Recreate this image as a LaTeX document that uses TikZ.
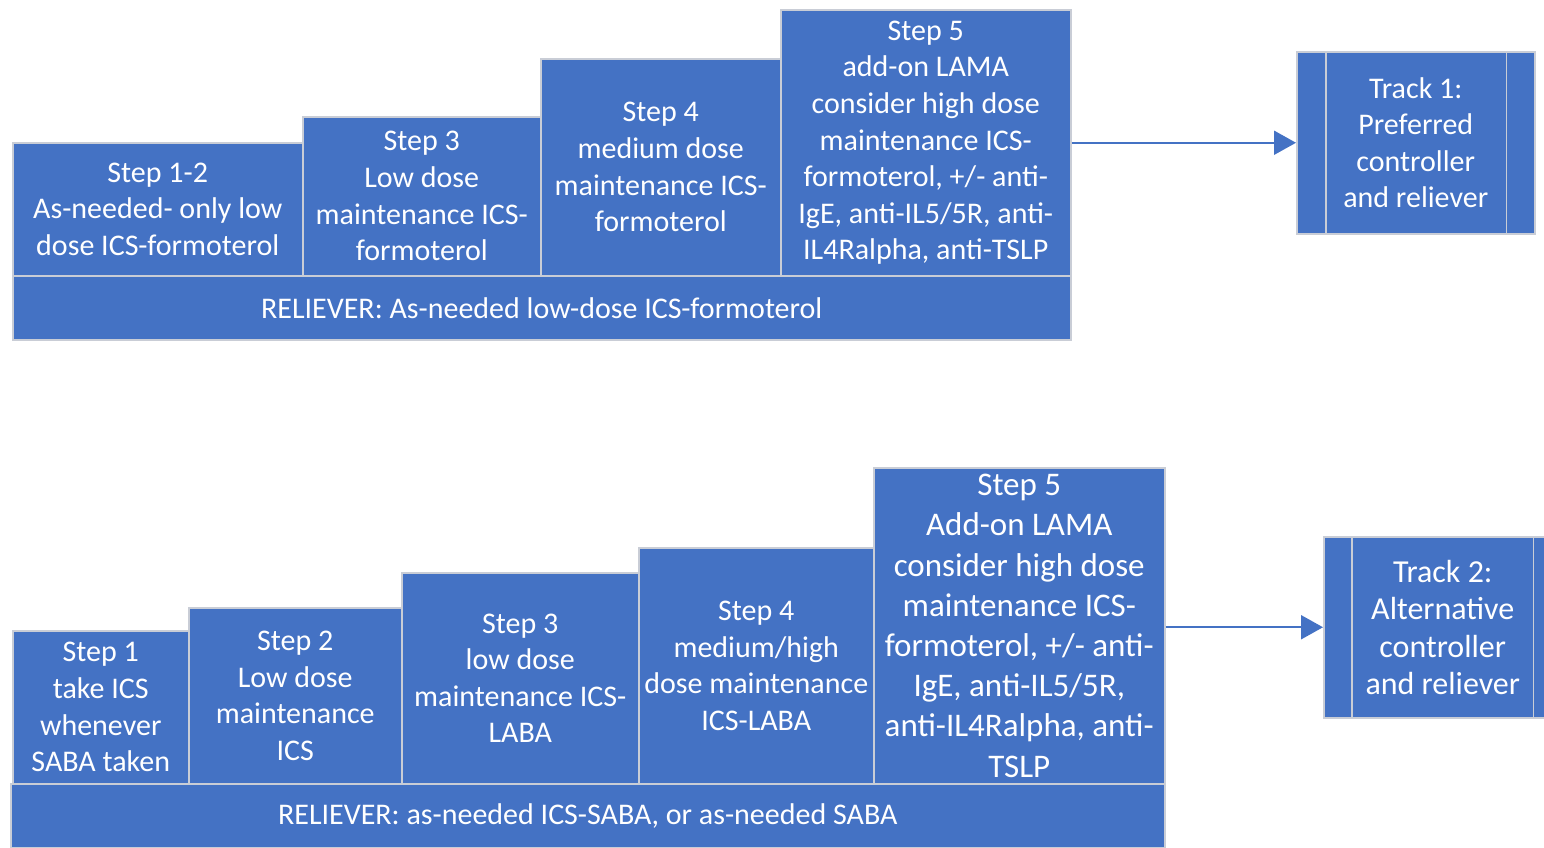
\documentclass[tikz,border=0pt]{standalone}
\usepackage{fontspec}
\setmainfont{Carlito}
\usetikzlibrary{arrows.meta}
\definecolor{fillblue}{HTML}{4472C4}
\definecolor{edgegray}{HTML}{C9CDD6}
\tikzset{
  box/.style={draw=edgegray, line width=1.5pt, fill=fillblue, text=white, align=center,
    inner sep=0pt, anchor=north west, font=\fontsize{30}{36.6}\selectfont},
  bigtext/.style={font=\fontsize{33}{40.2}\selectfont},
  midtext/.style={font=\fontsize{32}{37.5}\selectfont},
  arr/.style={draw=fillblue, line width=2pt, -{Triangle[length=22pt,width=24pt]}},
  divider/.style={draw=edgegray, line width=1.5pt},
}
\begin{document}
\begin{tikzpicture}[x=1pt,y=-1pt]
\useasboundingbox (0,0) rectangle (1544,847);
\clip (0,0) rectangle (1544,847);
% ---------- Track 1 ----------
\node[box, minimum width=290pt, minimum height=133pt] (a1) at (12,142)
  {Step 1-2\\As-needed- only low\\dose ICS-formoterol};
\node[box, minimum width=238pt, minimum height=159pt] (a2) at (302,116)
  {Step 3\\Low dose\\maintenance ICS-\\formoterol};
\node[box, minimum width=240pt, minimum height=217pt] (a3) at (540,58)
  {Step 4\\medium dose\\maintenance ICS-\\formoterol};
\node[box, minimum width=290pt, minimum height=266pt] (a4) at (780,9)
  {Step 5\\add-on LAMA\\consider high dose\\maintenance ICS-\\formoterol, +/- anti-\\IgE, anti-IL5/5R, anti-\\IL4Ralpha, anti-TSLP};
\node[box, minimum width=1058pt, minimum height=64pt] (ar) at (12,275)
  {RELIEVER: As-needed low-dose ICS-formoterol};
\node[box, minimum width=238pt, minimum height=182pt] (t1) at (1296,51)
  {Track 1:\\Preferred\\controller\\and reliever};
\draw[divider] ([xshift=30pt]t1.north west) -- ([xshift=30pt]t1.south west);
\draw[divider] ([xshift=-29pt]t1.north east) -- ([xshift=-29pt]t1.south east);
\draw[arr] (a4.east) -- (t1.west);
% ---------- Track 2 ----------
\node[box, minimum width=176pt, minimum height=153pt] (b1) at (12,630)
  {Step 1\\take ICS\\whenever\\SABA taken};
\node[box, minimum width=213pt, minimum height=176pt] (b2) at (188,607)
  {Step 2\\Low dose\\maintenance\\ICS};
\node[box, minimum width=237pt, minimum height=211pt] (b3) at (401,572)
  {Step 3\\low dose\\maintenance ICS-\\LABA};
\node[box, minimum width=235pt, minimum height=236pt] (b4) at (638,547)
  {Step 4\\medium/high\\dose maintenance\\ICS-LABA};
\node[box, bigtext, minimum width=291pt, minimum height=316pt] (b5) at (873,467)
  {Step 5\\Add-on LAMA\\consider high dose\\maintenance ICS-\\formoterol, +/- anti-\\IgE, anti-IL5/5R,\\anti-IL4Ralpha, anti-\\TSLP};
\node[box, minimum width=1154pt, minimum height=64pt] (br) at (10,783)
  {RELIEVER: as-needed ICS-SABA, or as-needed SABA};
\node[box, midtext, minimum width=238pt, minimum height=181pt] (t2) at (1323,536)
  {Track 2:\\Alternative\\controller\\and reliever};
\draw[divider] ([xshift=29pt]t2.north west) -- ([xshift=29pt]t2.south west);
\draw[divider] ([xshift=-29pt]t2.north east) -- ([xshift=-29pt]t2.south east);
\draw[arr] (b5.east |- t2.west) -- (t2.west);
\end{tikzpicture}
\end{document}
